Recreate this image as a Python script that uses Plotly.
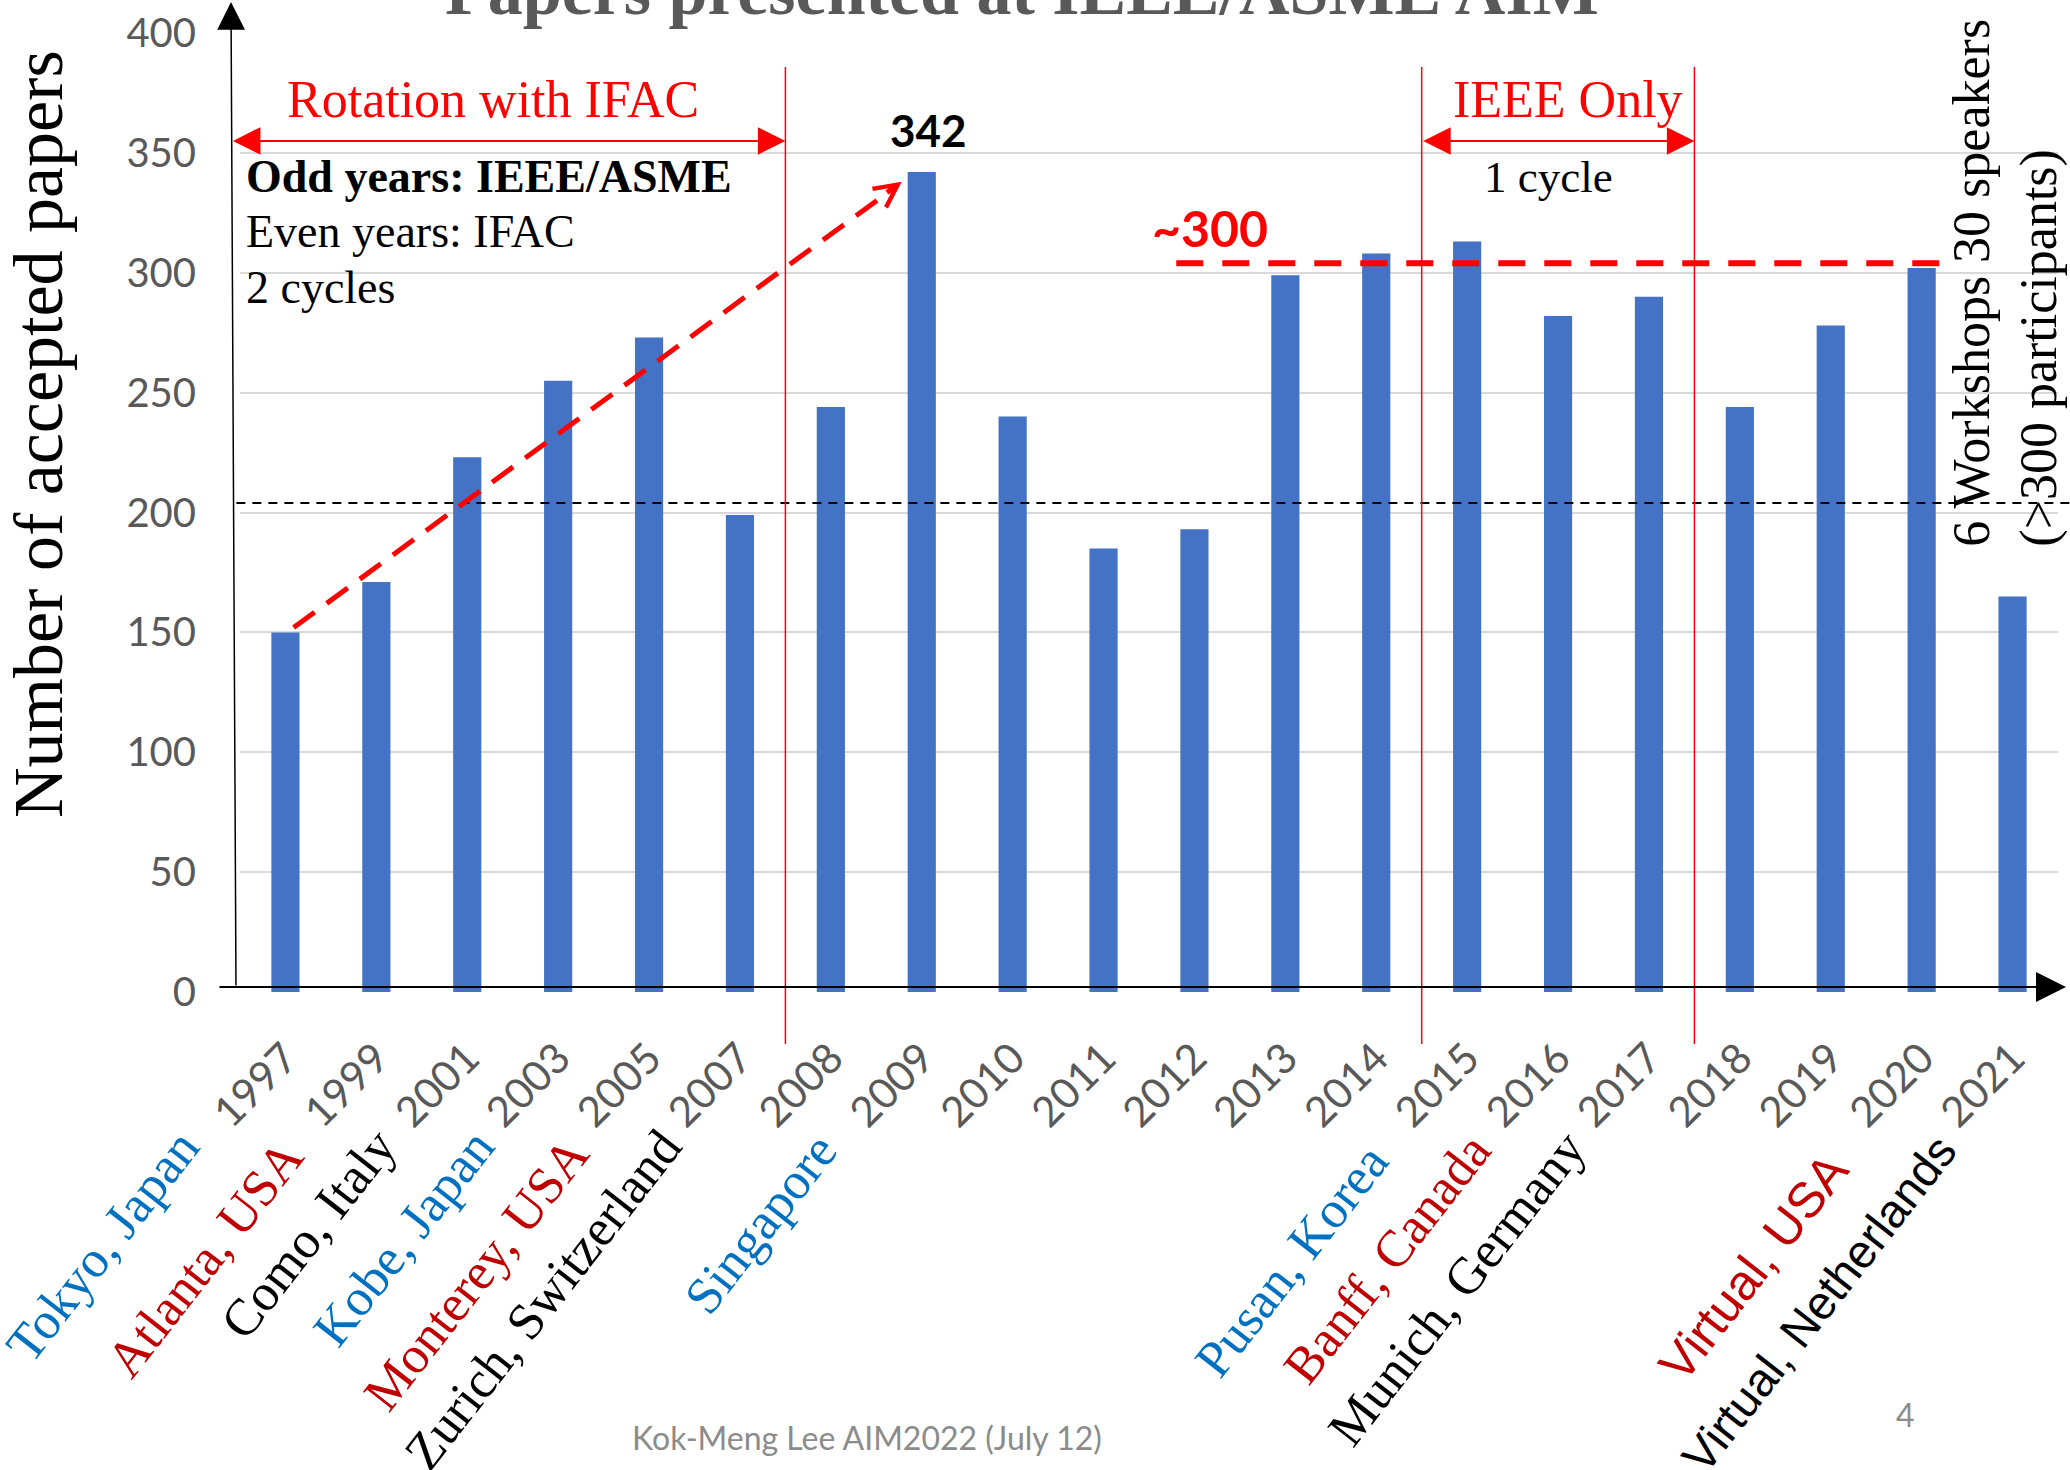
import plotly.graph_objects as go

# ---------------- data ----------------
years = ["1997", "1999", "2001", "2003", "2005", "2007", "2008", "2009", "2010", "2011",
         "2012", "2013", "2014", "2015", "2016", "2017", "2018", "2019", "2020", "2021"]
papers = [150, 171, 223, 255, 273, 199, 244, 342, 240, 185,
          193, 299, 308, 313, 282, 290, 244, 278, 302, 165]
y_ticks = [0, 50, 100, 150, 200, 250, 300, 350, 400]

city_years = ["1997", "1999", "2001", "2003", "2005", "2007", "2008",
              "2015", "2016", "2017", "2020", "2021"]
city_names = ["Tokyo, Japan", "Atlanta, USA", "Como, Italy", "Kobe, Japan", "Monterey, USA",
              "Zurich, Switzerland", "Singapore", "Pusan, Korea", "Banff, Canada",
              "Munich, Germany", "Virtual, USA", "Virtual, Netherlands"]

average_level = 204        # black dashed reference line
plateau_level = 304        # red dashed "~300" line
peak_label = "342"
peak_year = "2009"
trend_start = (0.09, 152)  # red dashed trend arrow (category position, papers)
trend_end = (6.78, 338)
rotation_end = 5.5         # boundaries between eras (category positions)
ieee_only = (12.5, 15.5)

# ---------------- styles ----------------
SERIF = "Liberation Serif"
SANS = "Liberation Sans"
CAL = "Lato"
GRAY = "#595959"
RED = "#FF0000"
city_colors = ["#0070C0", "#C00000", "#000000", "#0070C0", "#C00000", "#000000", "#0070C0",
               "#0070C0", "#C00000", "#000000", "#C00000", "#000000"]
city_fonts = [SERIF] * 10 + [SANS, SANS]
city_sizes = [52] * 10 + [50, 47]
city_xshift = [-72, -59, -58, -50, -46, -45, 20, -65, -54, -50, -59, -43]
city_top_px = [1116, 1126, 1116, 1116, 1124, 1116, 1120, 1131, 1120, 1118, 1140, 1122]
CITY_ANGLE = -52
TICK_ANGLE = -45

W, H = 2070, 1470
ML, MR, MT, MB = 240, 12, 33, 478
PH = H - MT - MB
PW = W - ML - MR


def py(px):  # page pixel row -> paper y
    return (H - MB - px) / PH


def px_(x):  # page pixel column -> paper x
    return (x - ML) / PW


fig = go.Figure()
fig.add_trace(go.Bar(x=years, y=papers, marker=dict(color="#4472C4", line=dict(width=0)),
                     hoverinfo="x+y"))

shapes = []
shapes.append(dict(type="line", xref="paper", yref="y", x0=-0.002, x1=1.0066,
                   y0=average_level, y1=average_level,
                   line=dict(color="black", width=2, dash="9px,7px")))
shapes.append(dict(type="line", xref="x", yref="y", x0=9.8, x1=18.2,
                   y0=plateau_level, y1=plateau_level,
                   line=dict(color=RED, width=6, dash="27px,19px")))
shapes.append(dict(type="line", xref="x", yref="y", x0=trend_start[0], y0=trend_start[1],
                   x1=trend_end[0] - 0.08, y1=trend_end[1] - 2.5,
                   line=dict(color=RED, width=5, dash="26px,15px")))
for xv in [rotation_end, ieee_only[0], ieee_only[1]]:
    shapes.append(dict(type="line", xref="x", yref="paper", x0=xv, x1=xv,
                       y0=py(1044), y1=py(67), line=dict(color=RED, width=1.5)))

ann = []
# axis arrows
ann.append(dict(xref="paper", yref="y", x=px_(2066), y=0, yshift=5,
                axref="pixel", ayref="pixel", ax=-1848, ay=0, text="", showarrow=True,
                arrowhead=2, arrowsize=3, arrowwidth=2, arrowcolor="black"))
ann.append(dict(xref="paper", yref="paper", x=px_(231), y=py(2),
                axref="pixel", ayref="pixel", ax=5, ay=985, text="", showarrow=True,
                arrowhead=2, arrowsize=3.7, arrowwidth=1.5, arrowcolor="black"))
# era double arrows
ann.append(dict(xref="x", yref="y", x=rotation_end, y=355, axref="x", ayref="y",
                ax=-0.594, ay=355, text="", showarrow=True, arrowside="end+start",
                arrowhead=2, startarrowhead=2, arrowsize=2.75, startarrowsize=2.75,
                arrowwidth=2, arrowcolor=RED))
ann.append(dict(xref="x", yref="y", x=ieee_only[1], y=355, axref="x", ayref="y",
                ax=ieee_only[0], ay=355, text="", showarrow=True, arrowside="end+start",
                arrowhead=2, startarrowhead=2, arrowsize=2.75, startarrowsize=2.75,
                arrowwidth=2, arrowcolor=RED))
# trend arrow head
ann.append(dict(xref="x", yref="y", x=trend_end[0], y=trend_end[1], axref="x", ayref="y",
                ax=trend_end[0] - 0.18, ay=trend_end[1] - 5, text="", showarrow=True,
                arrowhead=5, arrowsize=0.9, arrowwidth=5, arrowcolor=RED))

# texts
ann.append(dict(xref="x", yref="y", x=2.28, y=372.4, text="Rotation with IFAC", showarrow=False,
                font=dict(family=SERIF, size=52, color=RED)))
ann.append(dict(xref="x", yref="y", x=14.11, y=372.4, text="IEEE Only", showarrow=False,
                font=dict(family=SERIF, size=52, color=RED)))
ann.append(dict(xref="x", yref="y", x=13.89, y=339.9, text="1 cycle", showarrow=False,
                font=dict(family=SERIF, size=45, color="black")))
for txt, yy in [("<b>Odd years: IEEE/ASME</b>", 340.3), ("Even years: IFAC", 317.3),
                ("2 cycles", 294.0)]:
    ann.append(dict(xref="x", yref="y", x=-0.456, y=yy, xanchor="left", text=txt,
                    showarrow=False, font=dict(family=SERIF, size=46, color="black")))
peak_i = years.index(peak_year)
ann.append(dict(xref="x", yref="y", x=peak_i, y=papers[peak_i],
                xshift=7, yshift=14, yanchor="bottom", text="<b>" + peak_label + "</b>",
                showarrow=False, font=dict(family=CAL, size=44, color="black")))
ann.append(dict(xref="x", yref="y", x=10.17, y=318.8, text="<b>~300</b>", showarrow=False,
                font=dict(family=CAL, size=50, color=RED)))
ann.append(dict(xref="x", yref="y", x=18.93, y=185, xanchor="center", yanchor="bottom",
                textangle=-90, align="left",
                text="6 Workshops 30 speakers<br>(>300 participants)",
                showarrow=False, font=dict(family=SERIF, size=52, color="black")))
# y axis title
ann.append(dict(xref="paper", yref="paper", x=px_(38), y=py(434), xanchor="center",
                yanchor="middle", textangle=-90, text="Number of accepted papers",
                showarrow=False, font=dict(family=SERIF, size=70, color="black")))
# chart title (partly above the page)
ann.append(dict(xref="paper", yref="paper", x=px_(1022), y=py(31), xanchor="center",
                yanchor="bottom", text="<b>Papers presented at IEEE/ASME AIM</b>",
                showarrow=False, font=dict(family=SERIF, size=70, color=GRAY)))
# footer
ann.append(dict(xref="paper", yref="paper", x=px_(630), y=py(1437), xanchor="left",
                yanchor="middle", text="Kok-Meng Lee AIM2022 (July 12)", showarrow=False,
                font=dict(family=CAL, size=32, color="#8B8B8B")))
ann.append(dict(xref="paper", yref="paper", x=px_(1905), y=py(1414), xanchor="center",
                yanchor="middle", text="4", showarrow=False,
                font=dict(family=CAL, size=32, color="#8B8B8B")))
# city labels
for yr, name, col, fam, sz, xs, top in zip(city_years, city_names, city_colors, city_fonts,
                                           city_sizes, city_xshift, city_top_px):
    ann.append(dict(xref="x", yref="paper", x=years.index(yr), y=py(top), xshift=xs,
                    xanchor="right", yanchor="top", textangle=CITY_ANGLE, text=name,
                    showarrow=False, font=dict(family=fam, size=sz, color=col)))

fig.update_layout(
    width=W, height=H, margin=dict(l=ML, r=MR, t=MT, b=MB, autoexpand=False),
    paper_bgcolor="white", plot_bgcolor="white", showlegend=False, bargap=0.69,
    shapes=shapes, annotations=ann,
    xaxis=dict(type="category", range=[-0.5, len(years) - 0.5], tickangle=TICK_ANGLE,
               tickfont=dict(family=CAL, size=42, color=GRAY), showgrid=False,
               zeroline=False, showline=False, ticks="", ticklabelstandoff=32),
    yaxis=dict(range=[0, 400], tickvals=y_ticks, showgrid=True, gridcolor="#D9D9D9",
               gridwidth=2, zeroline=False, showline=False, ticks="",
               tickfont=dict(family=CAL, size=40, color=GRAY), ticklabelstandoff=43),
)

fig.write_html("out.html", config={"displayModeBar": False},
               post_script="document.body.style.margin='0px';")
